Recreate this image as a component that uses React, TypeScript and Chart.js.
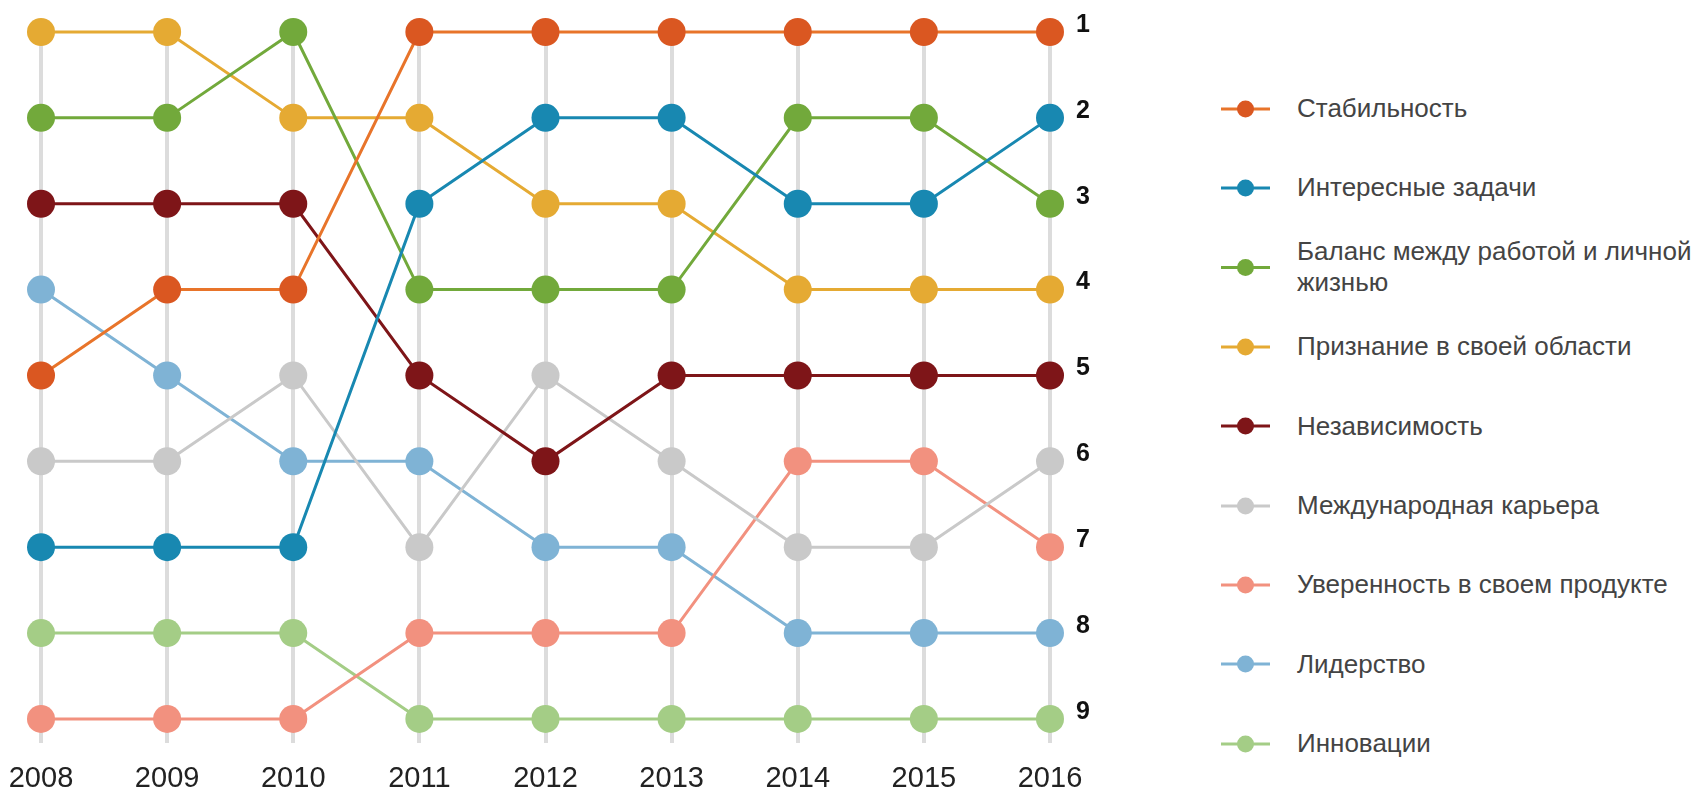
import React, { useEffect, useRef } from "react";
import { Chart, registerables } from "chart.js";

Chart.register(...registerables);

const years = ["2008", "2009", "2010", "2011", "2012", "2013", "2014", "2015", "2016"];
const rankTicks = [1, 2, 3, 4, 5, 6, 7, 8, 9];

const seriesNames = [
  "Стабильность",
  "Интересные задачи",
  "Баланс между работой и личной\nжизнью",
  "Признание в своей области",
  "Независимость",
  "Международная карьера",
  "Уверенность в своем продукте",
  "Лидерство",
  "Инновации",
];

const stability = [5, 4, 4, 1, 1, 1, 1, 1, 1];
const interestingTasks = [7, 7, 7, 3, 2, 2, 3, 3, 2];
const workLifeBalance = [2, 2, 1, 4, 4, 4, 2, 2, 3];
const recognition = [1, 1, 2, 2, 3, 3, 4, 4, 4];
const independence = [3, 3, 3, 5, 6, 5, 5, 5, 5];
const internationalCareer = [6, 6, 5, 7, 5, 6, 7, 7, 6];
const productConfidence = [9, 9, 9, 8, 8, 8, 6, 6, 7];
const leadership = [4, 5, 6, 6, 7, 7, 8, 8, 8];
const innovation = [8, 8, 8, 9, 9, 9, 9, 9, 9];

const seriesValues = [
  stability,
  interestingTasks,
  workLifeBalance,
  recognition,
  independence,
  internationalCareer,
  productConfidence,
  leadership,
  innovation,
];

const seriesColors = [
  "#DA5721",
  "#1888B1",
  "#72A93B",
  "#E5AA33",
  "#7E1518",
  "#C9C9C9",
  "#F2917F",
  "#7FB3D5",
  "#A4CD86",
];

const lineColors = [
  "#E8742A",
  "#1888B1",
  "#72A93B",
  "#E5AA33",
  "#7E1518",
  "#C9C9C9",
  "#F2917F",
  "#7FB3D5",
  "#A4CD86",
];

const zeroPadding = (s: any) => {
  s.paddingLeft = 0;
  s.paddingRight = 0;
  s.paddingTop = 0;
  s.paddingBottom = 0;
};

export default function App() {
  const canvasRef = useRef<HTMLCanvasElement | null>(null);

  useEffect(() => {
    document.body.style.margin = "0";
    const canvas = canvasRef.current;
    if (!canvas) return;
    const chart = new Chart(canvas, {
      type: "line",
      data: {
        labels: years,
        datasets: seriesNames.map((name, i) => ({
          label: name,
          data: seriesValues[i],
          borderColor: lineColors[i],
          backgroundColor: seriesColors[i],
          pointBackgroundColor: seriesColors[i],
          pointBorderColor: seriesColors[i],
          pointBorderWidth: 0,
          pointRadius: 14,
          pointHoverRadius: 14,
          borderWidth: 3,
          tension: 0,
          fill: false,
          clip: false as any,
        })),
      },
      options: {
        responsive: false,
        animation: false,
        layout: { autoPadding: false, padding: { left: 41, top: 32, right: 0, bottom: 0 } },
        plugins: {
          legend: { display: false },
          tooltip: { enabled: false },
        },
        scales: {
          x: {
            type: "category",
            offset: false,
            grid: {
              display: true,
              color: "#DCDCDC",
              lineWidth: 4,
              drawTicks: false,
            },
            border: { display: false },
            ticks: {
              color: "#222222",
              font: { family: "'Liberation Sans', Arial, sans-serif", size: 29 },
              padding: 19,
              maxRotation: 0,
              autoSkip: false,
            },
            afterFit: (s: any) => {
              s.height = 50;
              zeroPadding(s);
            },
          },
          y: {
            type: "linear",
            position: "right",
            reverse: true,
            min: 1,
            max: 9.28,
            grid: { display: false, drawTicks: false },
            border: { display: false },
            afterBuildTicks: (s: any) => {
              s.ticks = rankTicks.map((v) => ({ value: v }));
            },
            ticks: {
              color: "#111111",
              font: { family: "'Liberation Sans', Arial, sans-serif", size: 25, weight: "bold" },
              padding: 26,
              labelOffset: -7,
            } as any,
            afterFit: (s: any) => {
              s.width = 60;
              zeroPadding(s);
            },
          },
        },
      },
    });
    return () => chart.destroy();
  }, []);

  return (
    <div
      style={{
        position: "fixed",
        left: 0,
        top: 0,
        width: 1698,
        height: 793,
        background: "#fff",
        overflow: "hidden",
      }}
    >
      <canvas
        ref={canvasRef}
        width={1110}
        height={793}
        style={{ position: "absolute", left: 0, top: 0, width: 1110, height: 793 }}
      />
      {seriesNames.map((name, i) => (
        <div
          key={name}
          style={{
            position: "absolute",
            left: 1218,
            top: 108 + i * 79.4,
            transform: "translateY(-50%)",
            display: "flex",
            alignItems: "center",
          }}
        >
          <div style={{ position: "relative", width: 54, height: 20, flex: "none" }}>
            <div
              style={{
                position: "absolute",
                left: 3,
                right: 2,
                top: 9,
                height: 3,
                background: lineColors[i],
              }}
            />
            <div
              style={{
                position: "absolute",
                left: 19,
                top: 2,
                width: 17,
                height: 17,
                borderRadius: "50%",
                background: seriesColors[i],
              }}
            />
          </div>
          <div
            style={{
              marginLeft: 25,
              whiteSpace: "pre-line",
              fontFamily: "'Liberation Sans', Arial, sans-serif",
              fontSize: 26,
              lineHeight: "31px",
              color: "#444444",
            }}
          >
            {name}
          </div>
        </div>
      ))}
    </div>
  );
}
